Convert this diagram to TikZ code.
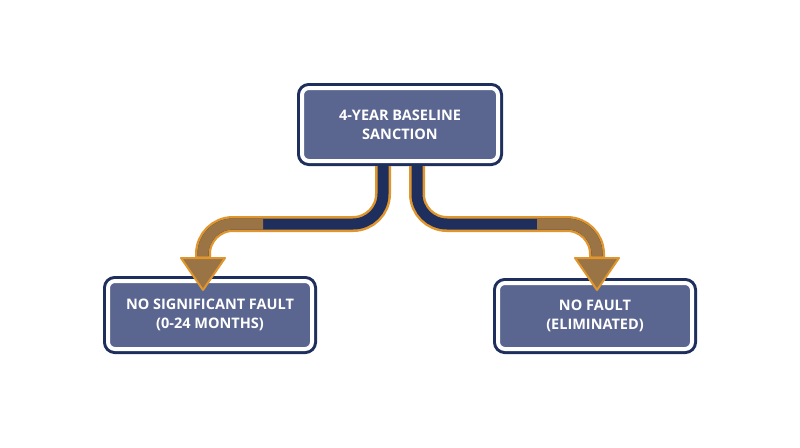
\documentclass[tikz,border=0pt]{standalone}
\usepackage{fontspec}
\setmainfont{Open Sans}
\begin{document}
\begin{tikzpicture}[x=1pt,y=-1pt,
  box/.style={rounded corners=7pt, fill=boxfill, draw=white, line width=4pt,
    preaction={draw=navyc, line width=10pt, rounded corners=7pt},
    text=white, font=\bfseries\fontsize{14.5}{19}\selectfont, align=center, inner sep=0pt},
  bandout/.style={draw=orng, line width=16pt, rounded corners=30pt},
  bandin/.style={draw=navyc, line width=11pt, rounded corners=30pt},
  head/.style={fill=brn, draw=orng, line width=2pt, line join=round}]
\definecolor{navyc}{HTML}{1E2F5E}
\definecolor{boxfill}{HTML}{5B6690}
\definecolor{orng}{HTML}{E0962E}
\definecolor{brn}{HTML}{9A7445}
\useasboundingbox (0,0) rectangle (800,447);
\node[box, minimum width=196pt, minimum height=73pt] (top) at (400,124.5) {4-YEAR BASELINE\\SANCTION};
\node[box, minimum width=204pt, minimum height=68pt] (l) at (210,315) {NO SIGNIFICANT FAULT\\(0-24 MONTHS)};
\node[box, minimum width=194pt, minimum height=66pt] (r) at (595,316) {NO FAULT\\(ELIMINATED)};
\coordinate (ls) at ([xshift=-17pt]top.south);
\coordinate (rs) at ([xshift=17pt]top.south);
\coordinate (le) at (203,258);
\coordinate (re) at (597,258);
\coordinate (lt) at (203,290);
\coordinate (rt) at (597,290);
\foreach \s/\e in {ls/le,rs/re}{
  \draw[bandout] ([yshift=-3pt]\s) |- (\e|-0,224) -- (\e);
  \draw[bandin] ([yshift=-1pt]\s) |- (\e|-0,224) -- ([yshift=2pt]\e);
  \begin{scope}
    \clip (\e) ++(-60,-80) rectangle ++(120,80);
    \draw[draw=brn, line width=11pt, rounded corners=30pt] ([yshift=-1pt]\s) |- (\e|-0,224) -- ([yshift=2pt]\e);
  \end{scope}
}
\draw[head] ([xshift=-22pt]le) -- ([xshift=22pt]le) -- (lt) -- cycle;
\draw[head] ([xshift=-22pt]re) -- ([xshift=22pt]re) -- (rt) -- cycle;
\end{tikzpicture}
\end{document}
